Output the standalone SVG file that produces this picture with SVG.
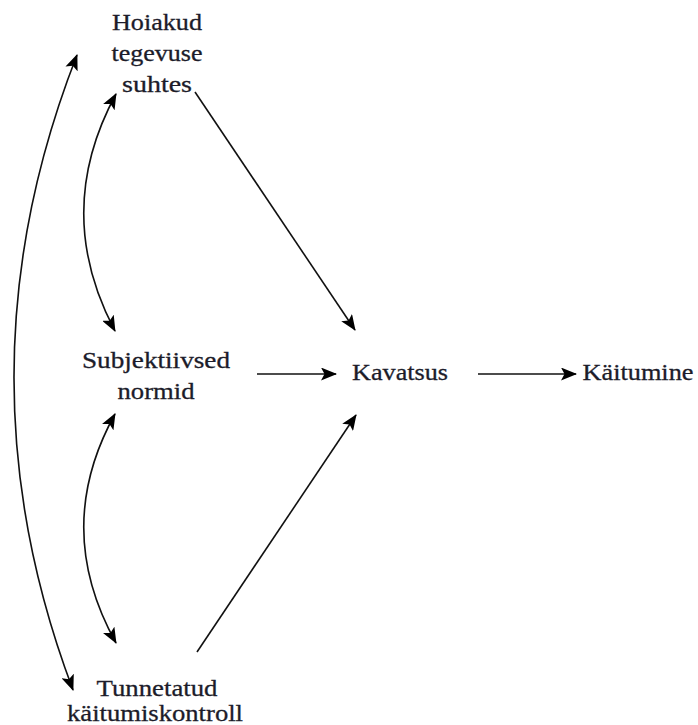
<svg xmlns="http://www.w3.org/2000/svg" width="698" height="725" viewBox="0 0 698 725">
<style>
.t{font-family:'Liberation Serif','Times New Roman','DejaVu Serif',serif;font-size:24px;fill:#1c1c2a;stroke:#1c1c2a;stroke-width:0.3;text-anchor:middle}
.c{fill:none;stroke:#111;stroke-width:1.6}
</style>
<defs>
<marker id="a" viewBox="0 0 16 13" refX="15" refY="6.5" markerWidth="16" markerHeight="13" markerUnits="userSpaceOnUse" orient="auto-start-reverse">
<path d="M0,0 L16,6.5 L0,13 L3.5,6.5 Z" fill="#000"/>
</marker>
</defs>
<rect width="698" height="725" fill="#fff"/>
<g id="connectors">
<path class="c" d="M195,92 L355,330" marker-end="url(#a)"/>
<path class="c" d="M257,374 L336,374" marker-end="url(#a)"/>
<path class="c" d="M478,374 L576,374" marker-end="url(#a)"/>
<path class="c" d="M197,652 L356,415" marker-end="url(#a)"/>
<path class="c" d="M116,94 Q52,212 115,331" marker-start="url(#a)" marker-end="url(#a)"/>
<path class="c" d="M115,414 Q52,528 116,643" marker-start="url(#a)" marker-end="url(#a)"/>
<path class="c" d="M77,55 Q-47,372 73,690" marker-start="url(#a)" marker-end="url(#a)"/>
</g>
<g id="hoiakud">
<text class="t" x="157" y="30" textLength="90" lengthAdjust="spacingAndGlyphs">Hoiakud</text>
<text class="t" x="157" y="61" textLength="91" lengthAdjust="spacingAndGlyphs">tegevuse</text>
<text class="t" x="157" y="92" textLength="70" lengthAdjust="spacingAndGlyphs">suhtes</text>
</g>
<g id="subjektiivsed">
<text class="t" x="156" y="368" textLength="148" lengthAdjust="spacingAndGlyphs">Subjektiivsed</text>
<text class="t" x="156" y="399" textLength="77" lengthAdjust="spacingAndGlyphs">normid</text>
</g>
<g id="kavatsus">
<text class="t" x="400" y="380" textLength="96" lengthAdjust="spacingAndGlyphs">Kavatsus</text>
</g>
<g id="kaitumine">
<text class="t" x="638" y="380" textLength="111" lengthAdjust="spacingAndGlyphs">Käitumine</text>
</g>
<g id="tunnetatud">
<text class="t" x="157" y="696" textLength="121" lengthAdjust="spacingAndGlyphs">Tunnetatud</text>
<text class="t" x="155" y="721" textLength="176" lengthAdjust="spacingAndGlyphs">käitumiskontroll</text>
</g>
</svg>
